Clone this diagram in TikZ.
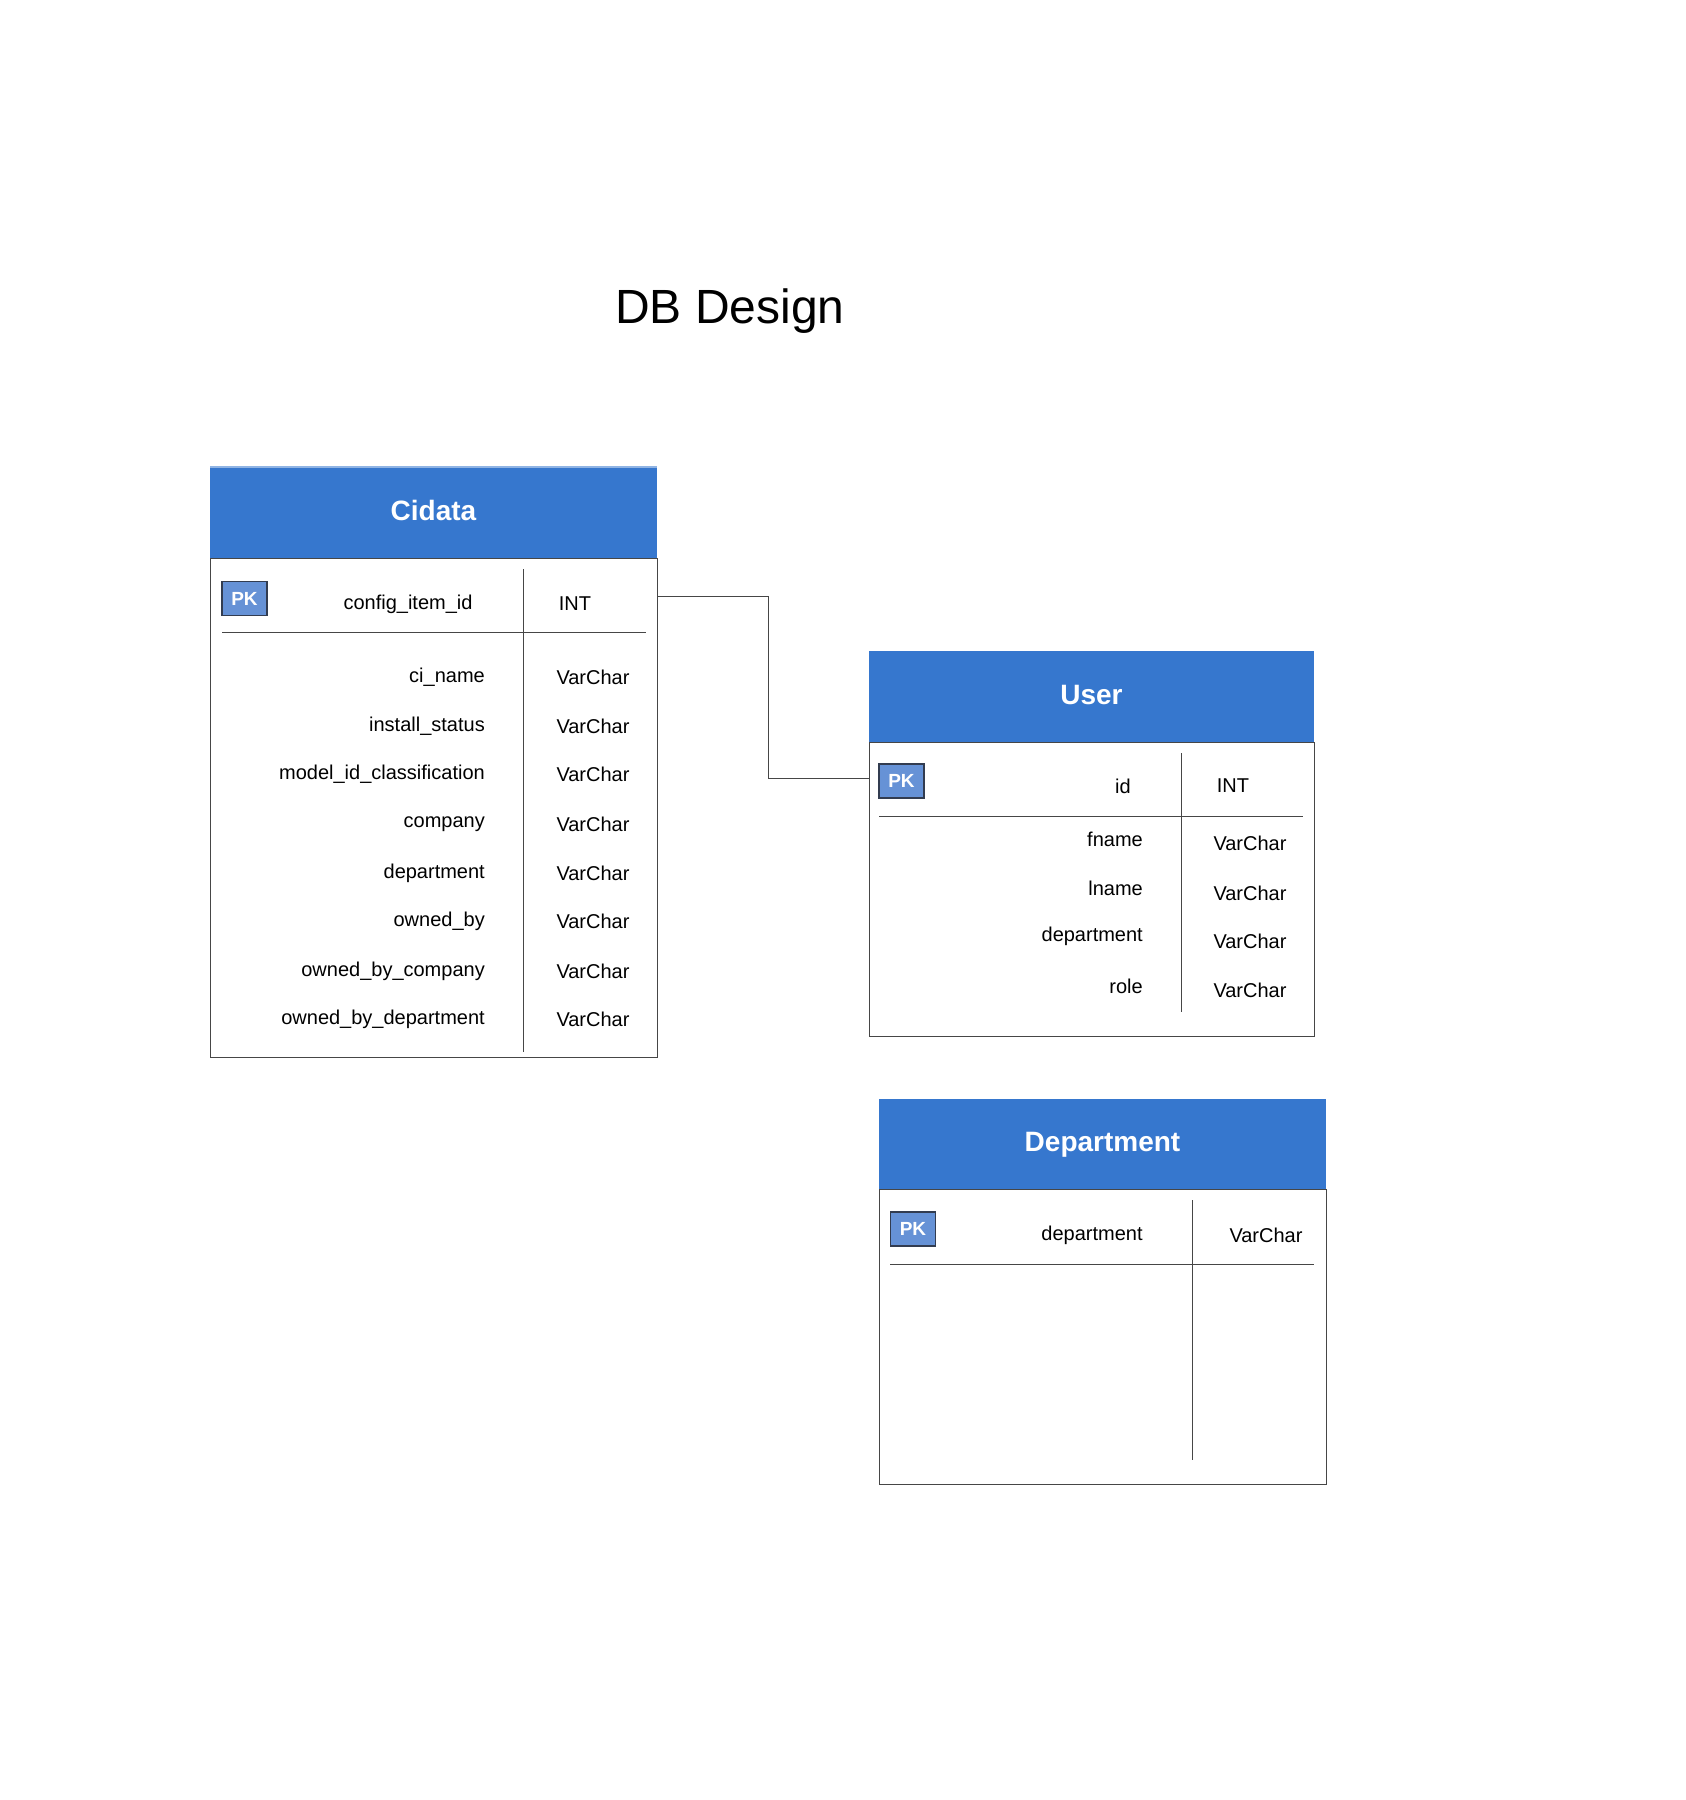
\documentclass[tikz,border=0pt]{standalone}
\usepackage{fontspec}
\setmainfont{Liberation Sans}
\begin{document}
\begin{tikzpicture}[x=1pt,y=-1pt,
  hdr/.style={fill=hdrblue,draw=none,inner sep=0pt,text=white,font=\fontsize{28}{34}\selectfont\bfseries},
  body/.style={draw=linegray,line width=1pt,fill=white,inner sep=0pt},
  pkbox/.style={draw=pkborder,line width=1.2pt,fill=pkblue,text=white,inner sep=0pt,minimum width=45pt,minimum height=34pt,font=\fontsize{19}{22}\selectfont\bfseries},
  fld/.style={font=\fontsize{20}{24}\selectfont,inner sep=0pt,text=black},
  rule/.style={draw=linegray,line width=1pt},
  conn/.style={draw=linegray,line width=1pt}
]
\definecolor{hdrblue}{RGB}{54,119,206}
\definecolor{pkblue}{RGB}{102,146,214}
\definecolor{pkborder}{RGB}{50,60,80}
\definecolor{linegray}{RGB}{70,70,70}
\useasboundingbox (0,0) rectangle (1686,1800);

\node[font=\fontsize{48}{56}\selectfont,inner sep=0pt,anchor=base] (title) at (730,323) {DB Design};

% ---------- Cidata ----------
\node[body,minimum width=447pt,minimum height=499pt,anchor=north west] (cbody) at (210,558) {};
\node[hdr,minimum width=447pt,minimum height=91pt,anchor=north west] (chead) at (210,467) {};
\node[hdr] (chtext) at (433.5,510) {Cidata};
\draw[draw=hdrblue!55!white,line width=1.5pt] (chead.north west) -- (chead.north east);
\node[pkbox] (pk1) at (244.5,598.5) {PK};
\draw[rule] (523,569) -- (523,1052);
\draw[rule] (222,632) -- (646,632);
\node[fld] (c0) at (408,604) {config\_item\_id};
\node[fld] (c0t) at (575,604) {INT};
\foreach \n/\y in {ci\_name/677,install\_status/726,model\_id\_classification/774,company/824,department/873,owned\_by/921,owned\_by\_company/971,owned\_by\_department/1019}{
  \node[fld,anchor=east] at (485,\y) {\n};
  \node[fld] at (593,\y) {VarChar};
}

% ---------- User ----------
\node[body,minimum width=445pt,minimum height=294pt,anchor=north west] (ubody) at (869,742) {};
\node[hdr,minimum width=445pt,minimum height=91pt,anchor=north west] (uhead) at (869,651) {};
\node[hdr] (uhtext) at (1091.5,695) {User};
\node[pkbox] (pk2) at (901.5,781) {PK};
\draw[rule] (1181,753) -- (1181,1012);
\draw[rule] (879,816) -- (1303,816);
\node[fld] (u0) at (1123,786) {id};
\node[fld] (u0t) at (1233,786) {INT};
\foreach \n/\y/\t in {fname/839/843,lname/888/893,department/936/941,role/986/990}{
  \node[fld,anchor=east] at (1143,\y) {\n};
  \node[fld] at (1250,\t) {VarChar};
}

% ---------- Department ----------
\node[body,minimum width=447pt,minimum height=295pt,anchor=north west] (dbody) at (879,1189) {};
\node[hdr,minimum width=447pt,minimum height=90pt,anchor=north west] (dhead) at (879,1099) {};
\node[hdr] (dhtext) at (1102.5,1145) {Department};
\node[pkbox] (pk3) at (913,1229) {PK};
\draw[rule] (1192,1200) -- (1192,1460);
\draw[rule] (890,1264) -- (1314,1264);
\node[fld] (d0) at (1092,1235) {department};
\node[fld] (d0t) at (1266,1235) {VarChar};

% ---------- connector ----------
\coordinate (bend) at (768,596);
\draw[conn] (cbody.east |- bend) -- (bend) |- (ubody.west |- 0,778);
\end{tikzpicture}
\end{document}
